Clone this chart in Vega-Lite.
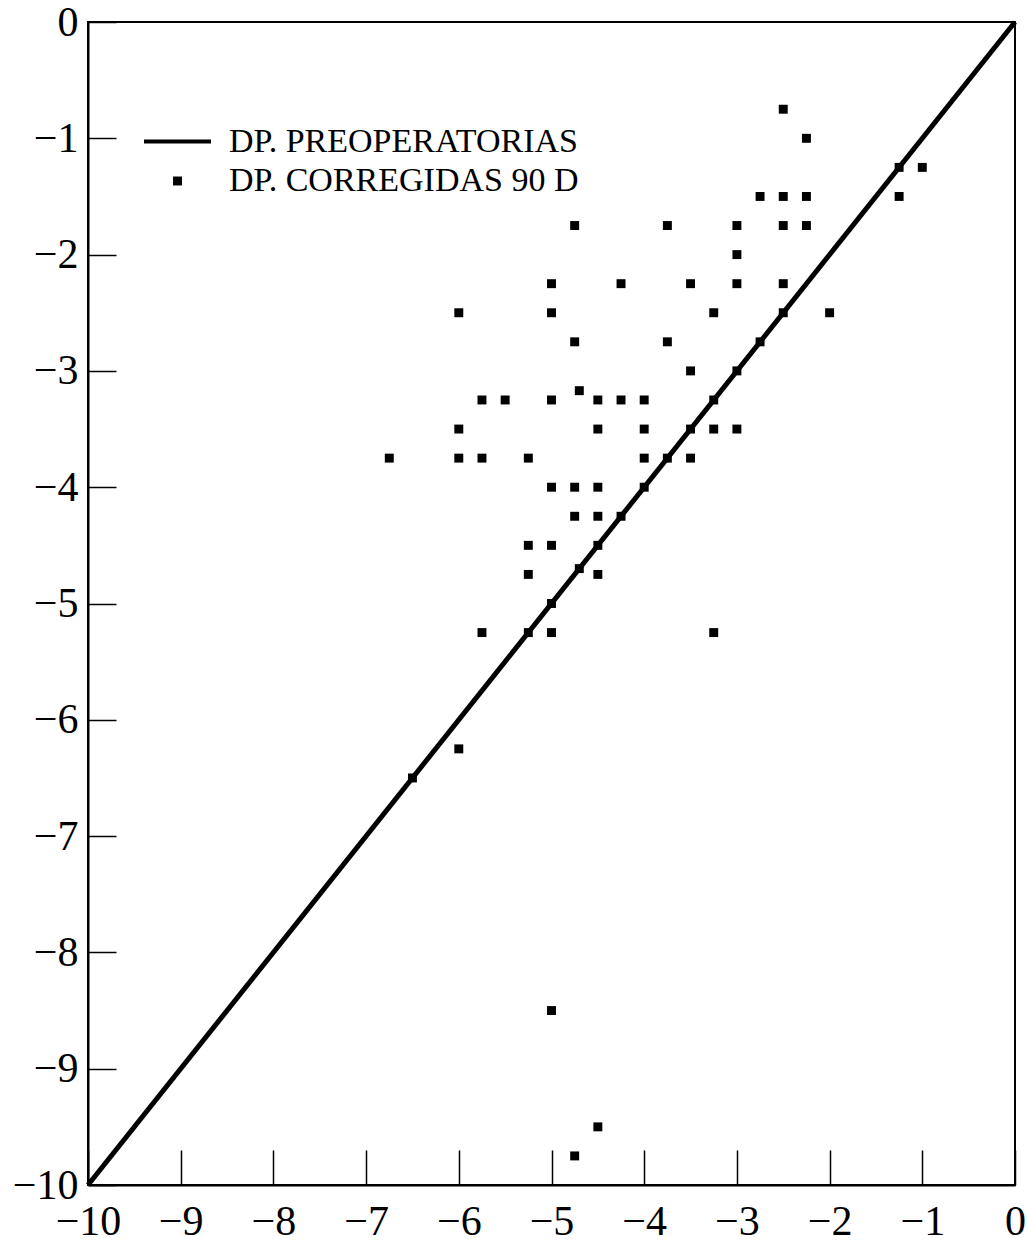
{
  "$schema": "https://vega.github.io/schema/vega-lite/v6.json",
  "autosize": {"type": "none"},
  "width": 927,
  "height": 1163,
  "padding": {"left": 88, "top": 22, "right": 12, "bottom": 62},
  "background": "white",
  "config": {
    "view": {"stroke": "black", "strokeWidth": 2},
    "axis": {
      "grid": false,
      "domainColor": "black",
      "domainWidth": 2,
      "tickColor": "black",
      "tickWidth": 1.5,
      "labelFont": "Liberation Serif",
      "labelFontSize": 42,
      "labelColor": "black",
      "labelFlush": false,
      "labelOverlap": false,
      "labelBound": false,
      "title": null
    },
    "legend": {
      "title": null,
      "orient": "none",
      "legendX": 54,
      "legendY": 84,
      "labelFont": "Liberation Serif",
      "labelFontSize": 34,
      "labelColor": "black",
      "labelLimit": 0,
      "labelOffset": 16,
      "rowPadding": 5,
      "symbolOpacity": 1
    }
  },
  "datasets": {
    "diag": [
      {"dp": -10, "dc": -10},
      {"dp": 0, "dc": 0}
    ],
    "pts": [
      {"dp": -2.5, "dc": -0.75, "serie": "DP. CORREGIDAS 90 D"},
      {"dp": -2.25, "dc": -1, "serie": "DP. CORREGIDAS 90 D"},
      {"dp": -1.25, "dc": -1.25, "serie": "DP. CORREGIDAS 90 D"},
      {"dp": -1, "dc": -1.25, "serie": "DP. CORREGIDAS 90 D"},
      {"dp": -2.75, "dc": -1.5, "serie": "DP. CORREGIDAS 90 D"},
      {"dp": -2.5, "dc": -1.5, "serie": "DP. CORREGIDAS 90 D"},
      {"dp": -2.25, "dc": -1.5, "serie": "DP. CORREGIDAS 90 D"},
      {"dp": -1.25, "dc": -1.5, "serie": "DP. CORREGIDAS 90 D"},
      {"dp": -4.75, "dc": -1.75, "serie": "DP. CORREGIDAS 90 D"},
      {"dp": -3.75, "dc": -1.75, "serie": "DP. CORREGIDAS 90 D"},
      {"dp": -3, "dc": -1.75, "serie": "DP. CORREGIDAS 90 D"},
      {"dp": -2.5, "dc": -1.75, "serie": "DP. CORREGIDAS 90 D"},
      {"dp": -2.25, "dc": -1.75, "serie": "DP. CORREGIDAS 90 D"},
      {"dp": -3, "dc": -2, "serie": "DP. CORREGIDAS 90 D"},
      {"dp": -5, "dc": -2.25, "serie": "DP. CORREGIDAS 90 D"},
      {"dp": -4.25, "dc": -2.25, "serie": "DP. CORREGIDAS 90 D"},
      {"dp": -3.5, "dc": -2.25, "serie": "DP. CORREGIDAS 90 D"},
      {"dp": -3, "dc": -2.25, "serie": "DP. CORREGIDAS 90 D"},
      {"dp": -2.5, "dc": -2.25, "serie": "DP. CORREGIDAS 90 D"},
      {"dp": -6, "dc": -2.5, "serie": "DP. CORREGIDAS 90 D"},
      {"dp": -5, "dc": -2.5, "serie": "DP. CORREGIDAS 90 D"},
      {"dp": -3.25, "dc": -2.5, "serie": "DP. CORREGIDAS 90 D"},
      {"dp": -2.5, "dc": -2.5, "serie": "DP. CORREGIDAS 90 D"},
      {"dp": -2, "dc": -2.5, "serie": "DP. CORREGIDAS 90 D"},
      {"dp": -4.75, "dc": -2.75, "serie": "DP. CORREGIDAS 90 D"},
      {"dp": -3.75, "dc": -2.75, "serie": "DP. CORREGIDAS 90 D"},
      {"dp": -2.75, "dc": -2.75, "serie": "DP. CORREGIDAS 90 D"},
      {"dp": -3.5, "dc": -3, "serie": "DP. CORREGIDAS 90 D"},
      {"dp": -3, "dc": -3, "serie": "DP. CORREGIDAS 90 D"},
      {"dp": -4.7, "dc": -3.17, "serie": "DP. CORREGIDAS 90 D"},
      {"dp": -5.75, "dc": -3.25, "serie": "DP. CORREGIDAS 90 D"},
      {"dp": -5.5, "dc": -3.25, "serie": "DP. CORREGIDAS 90 D"},
      {"dp": -5, "dc": -3.25, "serie": "DP. CORREGIDAS 90 D"},
      {"dp": -4.5, "dc": -3.25, "serie": "DP. CORREGIDAS 90 D"},
      {"dp": -4.25, "dc": -3.25, "serie": "DP. CORREGIDAS 90 D"},
      {"dp": -4, "dc": -3.25, "serie": "DP. CORREGIDAS 90 D"},
      {"dp": -3.25, "dc": -3.25, "serie": "DP. CORREGIDAS 90 D"},
      {"dp": -6, "dc": -3.5, "serie": "DP. CORREGIDAS 90 D"},
      {"dp": -4.5, "dc": -3.5, "serie": "DP. CORREGIDAS 90 D"},
      {"dp": -4, "dc": -3.5, "serie": "DP. CORREGIDAS 90 D"},
      {"dp": -3.5, "dc": -3.5, "serie": "DP. CORREGIDAS 90 D"},
      {"dp": -3.25, "dc": -3.5, "serie": "DP. CORREGIDAS 90 D"},
      {"dp": -3, "dc": -3.5, "serie": "DP. CORREGIDAS 90 D"},
      {"dp": -6.75, "dc": -3.75, "serie": "DP. CORREGIDAS 90 D"},
      {"dp": -6, "dc": -3.75, "serie": "DP. CORREGIDAS 90 D"},
      {"dp": -5.75, "dc": -3.75, "serie": "DP. CORREGIDAS 90 D"},
      {"dp": -5.25, "dc": -3.75, "serie": "DP. CORREGIDAS 90 D"},
      {"dp": -4, "dc": -3.75, "serie": "DP. CORREGIDAS 90 D"},
      {"dp": -3.75, "dc": -3.75, "serie": "DP. CORREGIDAS 90 D"},
      {"dp": -3.5, "dc": -3.75, "serie": "DP. CORREGIDAS 90 D"},
      {"dp": -5, "dc": -4, "serie": "DP. CORREGIDAS 90 D"},
      {"dp": -4.75, "dc": -4, "serie": "DP. CORREGIDAS 90 D"},
      {"dp": -4.5, "dc": -4, "serie": "DP. CORREGIDAS 90 D"},
      {"dp": -4, "dc": -4, "serie": "DP. CORREGIDAS 90 D"},
      {"dp": -4.75, "dc": -4.25, "serie": "DP. CORREGIDAS 90 D"},
      {"dp": -4.5, "dc": -4.25, "serie": "DP. CORREGIDAS 90 D"},
      {"dp": -4.25, "dc": -4.25, "serie": "DP. CORREGIDAS 90 D"},
      {"dp": -5.25, "dc": -4.5, "serie": "DP. CORREGIDAS 90 D"},
      {"dp": -5, "dc": -4.5, "serie": "DP. CORREGIDAS 90 D"},
      {"dp": -4.5, "dc": -4.5, "serie": "DP. CORREGIDAS 90 D"},
      {"dp": -4.7, "dc": -4.7, "serie": "DP. CORREGIDAS 90 D"},
      {"dp": -5.25, "dc": -4.75, "serie": "DP. CORREGIDAS 90 D"},
      {"dp": -4.5, "dc": -4.75, "serie": "DP. CORREGIDAS 90 D"},
      {"dp": -5, "dc": -5, "serie": "DP. CORREGIDAS 90 D"},
      {"dp": -5.75, "dc": -5.25, "serie": "DP. CORREGIDAS 90 D"},
      {"dp": -5.25, "dc": -5.25, "serie": "DP. CORREGIDAS 90 D"},
      {"dp": -5, "dc": -5.25, "serie": "DP. CORREGIDAS 90 D"},
      {"dp": -3.25, "dc": -5.25, "serie": "DP. CORREGIDAS 90 D"},
      {"dp": -6.5, "dc": -6.5, "serie": "DP. CORREGIDAS 90 D"},
      {"dp": -6, "dc": -6.25, "serie": "DP. CORREGIDAS 90 D"},
      {"dp": -5, "dc": -8.5, "serie": "DP. CORREGIDAS 90 D"},
      {"dp": -4.5, "dc": -9.5, "serie": "DP. CORREGIDAS 90 D"},
      {"dp": -4.75, "dc": -9.75, "serie": "DP. CORREGIDAS 90 D"}
    ]
  },
  "layer": [
    {
      "data": {"name": "diag"},
      "mark": {"type": "line", "color": "black", "strokeWidth": 5},
      "encoding": {
        "x": {"field": "dp", "type": "quantitative", "scale": {"domain": [-10, 0], "nice": false, "zero": false},
          "axis": {"values": [-10, -9, -8, -7, -6, -5, -4, -3, -2, -1, 0], "format": "d", "tickSize": -35, "labelPadding": 51}},
        "y": {"field": "dc", "type": "quantitative", "scale": {"domain": [-10, 0], "nice": false, "zero": false},
          "axis": {"values": [-10, -9, -8, -7, -6, -5, -4, -3, -2, -1, 0], "format": "d", "tickSize": -28, "labelPadding": 38,
            "encode": {"labels": {"update": {"dy": {"signal": "datum.value === -10 ? -14 : 0"}}}}}}
      }
    },
    {
      "data": {"name": "pts"},
      "mark": {"type": "point", "filled": true, "fill": "black", "stroke": "black", "opacity": 1},
      "encoding": {
        "x": {"field": "dp", "type": "quantitative"},
        "y": {"field": "dc", "type": "quantitative"},
        "shape": {
          "field": "serie", "type": "nominal",
          "scale": {"domain": ["DP. PREOPERATORIAS", "DP. CORREGIDAS 90 D"], "range": ["stroke", "square"]},
          "legend": {"title": null}
        },
        "size": {
          "field": "serie", "type": "nominal",
          "scale": {"domain": ["DP. PREOPERATORIAS", "DP. CORREGIDAS 90 D"], "range": [4489, 80]},
          "legend": {"title": null}
        },
        "strokeWidth": {
          "field": "serie", "type": "nominal",
          "scale": {"domain": ["DP. PREOPERATORIAS", "DP. CORREGIDAS 90 D"], "range": [4, 0]},
          "legend": {"title": null}
        }
      }
    }
  ]
}
